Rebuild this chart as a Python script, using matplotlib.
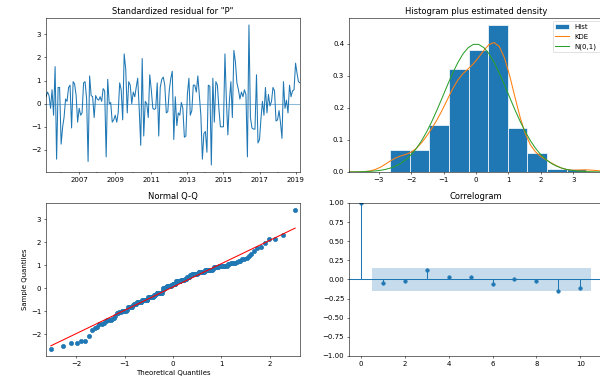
import matplotlib
matplotlib.use("Agg")
import matplotlib.pyplot as plt
import matplotlib.dates as mdates
import numpy as np
import pandas as pd
from statistics import NormalDist

# standardized residuals, monthly
resid = [
    0.3, 0.5, 0.35, -0.2, 0.6, -0.5, 1.6, -2.4, 0.7, 0.7,
    -1.75, -1.0, -0.6, 0.2, 0.1, 0.7, 0.8, -1.05, 0.95, 0.85,
    0.35, -0.8, -0.2, -0.5, -0.4, 0.9, 0.95, 0.2, -2.5, 1.2,
    0.35, 0.3, -0.6, 0.35, 0.2, 0.15, 0.3, 0.1, 0.65, 0.55,
    -2.3, 1.05, 0.0, 0.05, -0.8, -0.7, -0.5, -0.8, -0.4, 0.9,
    0.6, -0.7, 2.15, 1.5, -0.4, 0.95, 0.8, 0.0, 0.5, 0.3,
    0.7, 1.1, -0.2, -1.8, 1.95, -1.4, 0.1, 0.0, -0.6, 1.25,
    0.6, -0.2, -0.25, -0.2, 0.9, -1.4, 0.7, 1.05, 1.15, 0.8,
    -0.4, -0.35, 0.6, 1.1, 1.4, -1.55, 0.3, -0.95, -0.4, -0.5,
    0.05, -0.2, -1.45, -1.4, 0.4, 1.1, -0.5, -0.3, 0.8, 0.8,
    0.5, 1.2, 0.35, -0.5, -2.4, -1.3, -1.2, -2.1, 0.8, 0.75,
    -2.65, 1.1, -0.8, 0.95, 0.8, -0.2, -1.0, -1.0, -1.0, 2.15,
    0.2, -1.35, 0.1, 0.95, -0.6, 2.3, 1.8, 0.9, 0.6, 0.2,
    0.5, 0.3, 0.6, 0.4, -2.3, 3.4, -0.6, -1.05, -1.1, -1.1,
    1.25, -1.7, -1.55, -0.6, 0.1, -0.5, 0.7, -0.4, 0.4, -0.1,
    0.1, 0.7, 0.55, -0.75, -0.7, -0.3, -0.8, -1.5, 0.95, -0.2,
    0.15, -0.4, 0.8, 0.3, 0.55, 0.6, 1.75, 1.3, 0.95, 0.9,
]
tick_years = [2007, 2009, 2011, 2013, 2015, 2017, 2019]

# autocorrelations (lag 0..10) and band half-width
acf_vals = [1.0, -0.04, -0.02, 0.12, 0.03, 0.03, -0.06, 0.0, -0.02, -0.15, -0.11]
conf_half = [0.15, 0.15, 0.15, 0.15, 0.15, 0.15, 0.15, 0.15, 0.15, 0.15]

resid = np.array(resid)
n = len(resid)
dates = pd.date_range(end="2019-04-01", periods=n, freq="MS")

fig = plt.figure(figsize=(12, 7.66), dpi=50)
W = 0.4233
ax1 = fig.add_axes([0.0767, 0.551, W, 0.402])
ax2 = fig.add_axes([0.5817, 0.551, W, 0.402])
ax3 = fig.add_axes([0.0767, 0.0705, W, 0.3995])
ax4 = fig.add_axes([0.5817, 0.0705, W, 0.3995])

# top-left: residuals over time
ax1.plot(dates, resid)
ax1.hlines(0, dates[0], dates[-1], alpha=0.5)
ax1.set_xlim(dates[0], dates[-1])
ax1.set_xticks([pd.Timestamp(f"{y}-01-01") for y in tick_years])
ax1.set_xticklabels([str(y) for y in tick_years])
ax1.xaxis.set_minor_locator(mdates.YearLocator(1))
ax1.set_title('Standardized residual for "P"')

# top-right: histogram + kde + normal
ax2.hist(resid, density=True, label="Hist", edgecolor="#FFFFFF")
xlim = (-1.96 * 2, 1.96 * 2)
x = np.linspace(xlim[0], xlim[1])
bw = np.std(resid, ddof=1) * n ** (-1 / 5)
kde = np.exp(-0.5 * ((x[:, None] - resid[None, :]) / bw) ** 2).sum(axis=1) / (n * bw * np.sqrt(2 * np.pi))
ax2.plot(x, kde, label="KDE")
ax2.plot(x, np.exp(-x ** 2 / 2) / np.sqrt(2 * np.pi), label="N(0,1)")
ax2.set_xlim(xlim)
ax2.legend(loc="upper right")
ax2.set_title("Histogram plus estimated density")

# bottom-left: normal Q-Q
nd = NormalDist()
theo = np.array([nd.inv_cdf(i / (n + 1)) for i in range(1, n + 1)])
samp = np.sort(resid)
ax3.plot(theo, samp, marker="o", markerfacecolor="C0", markeredgecolor="C0", linestyle="none")
ax3.plot(theo, theo * np.std(samp) + np.mean(samp), "r-")
ax3.set_xmargin(0.02)
ax3.set_xlabel("Theoretical Quantiles")
ax3.set_ylabel("Sample Quantiles")
ax3.set_title("Normal Q-Q")

# bottom-right: correlogram
lags = np.arange(len(acf_vals))
ax4.vlines(lags, [0], acf_vals)
ax4.axhline(0)
ax4.plot(lags, acf_vals, marker="o", markersize=5, linestyle="None")
band_x = lags[1:].astype(float)
band_x[0] -= 0.5
band_x[-1] += 0.5
ax4.fill_between(band_x, -np.array(conf_half), conf_half, alpha=0.25, linewidth=0)
ax4.margins(0.05)
ax4.set_ylim(-1, 1)
ax4.set_title("Correlogram")

fig.savefig("out.png", dpi=50)
